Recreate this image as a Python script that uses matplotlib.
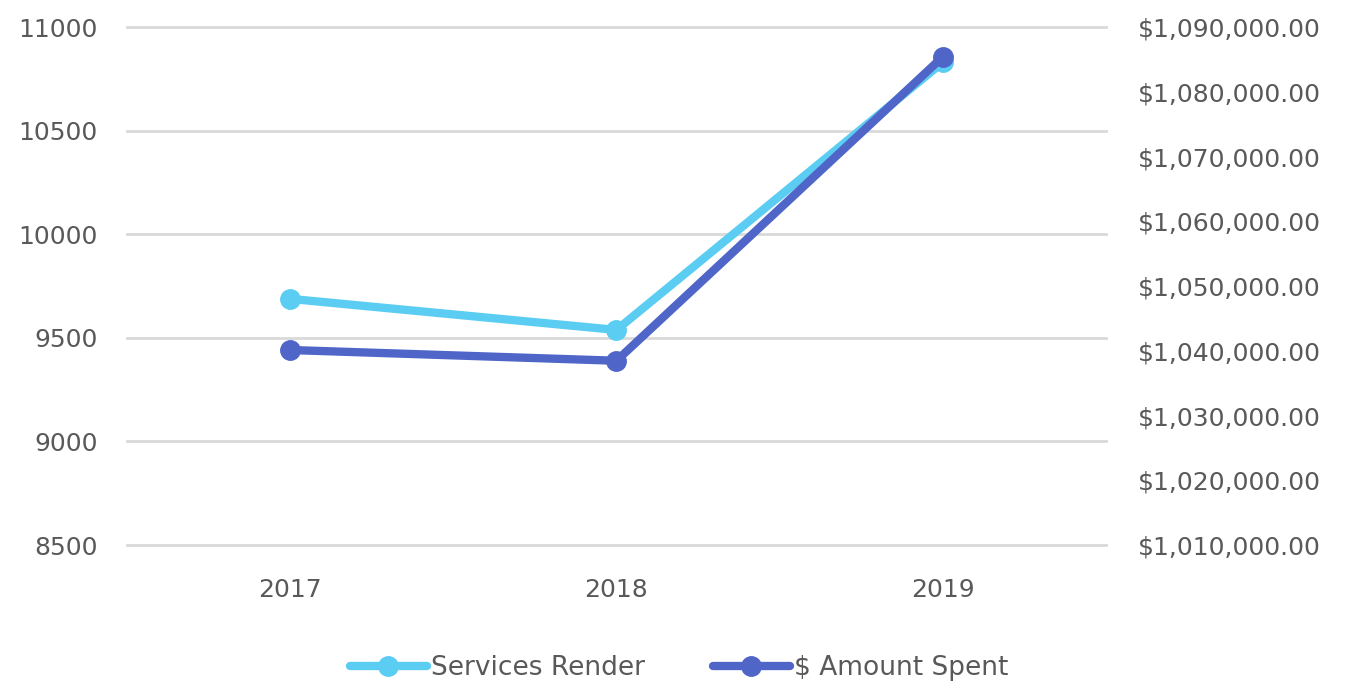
import matplotlib.pyplot as plt
from matplotlib.ticker import FuncFormatter

years = ["2017", "2018", "2019"]
services = [9688, 9538, 10830]
spent = [1040120, 1038460, 1085400]

left_ticks = [8500, 9000, 9500, 10000, 10500, 11000]
right_ticks = [1010000, 1020000, 1030000, 1040000, 1050000, 1060000, 1070000, 1080000, 1090000]

plt.rcParams['font.family'] = ['DejaVu Sans']

fig = plt.figure(figsize=(13.58, 6.86), dpi=100)
ax = fig.add_axes([0.0935, 0.2055, 0.7209, 0.7551])
ax2 = ax.twinx()

x = list(range(len(years)))
l1, = ax.plot(x, services, color='#5ccdf2', lw=6, marker='o', ms=14,
              solid_capstyle='round', label='Services Render', zorder=3)
l2, = ax2.plot(x, spent, color='#4f66c8', lw=6, marker='o', ms=14,
               solid_capstyle='round', label='$ Amount Spent', zorder=3)

ax.set_xlim(-0.5, 2.5)
ax.set_ylim(8500, 11000)
ax2.set_ylim(1010000, 1090000)
ax.set_xticks(x)
ax.set_xticklabels(years)
ax.set_yticks(left_ticks)
ax2.set_yticks(right_ticks)
ax2.yaxis.set_major_formatter(FuncFormatter(lambda v, p: "${:,.2f}".format(v)))

ax.grid(axis='y', color='#d9d9d9', lw=2)
for gl in ax.get_ygridlines():
    gl.set_clip_on(False)
ax.set_axisbelow(True)
for a in (ax, ax2):
    for s in a.spines.values():
        s.set_visible(False)
    a.tick_params(length=0, labelsize=18, colors='#595959')
ax.tick_params(axis='y', pad=21)
ax.tick_params(axis='x', pad=24)
ax2.tick_params(axis='y', pad=23)

fig.legend(handles=[l1, l2], loc='center', bbox_to_anchor=(0.5, 1 - 668 / 686),
           ncol=2, frameon=False, fontsize=19, labelcolor='#595959',
           handlelength=2.9, columnspacing=2.6, handletextpad=0.15)

fig.savefig('out.png', dpi=100)
